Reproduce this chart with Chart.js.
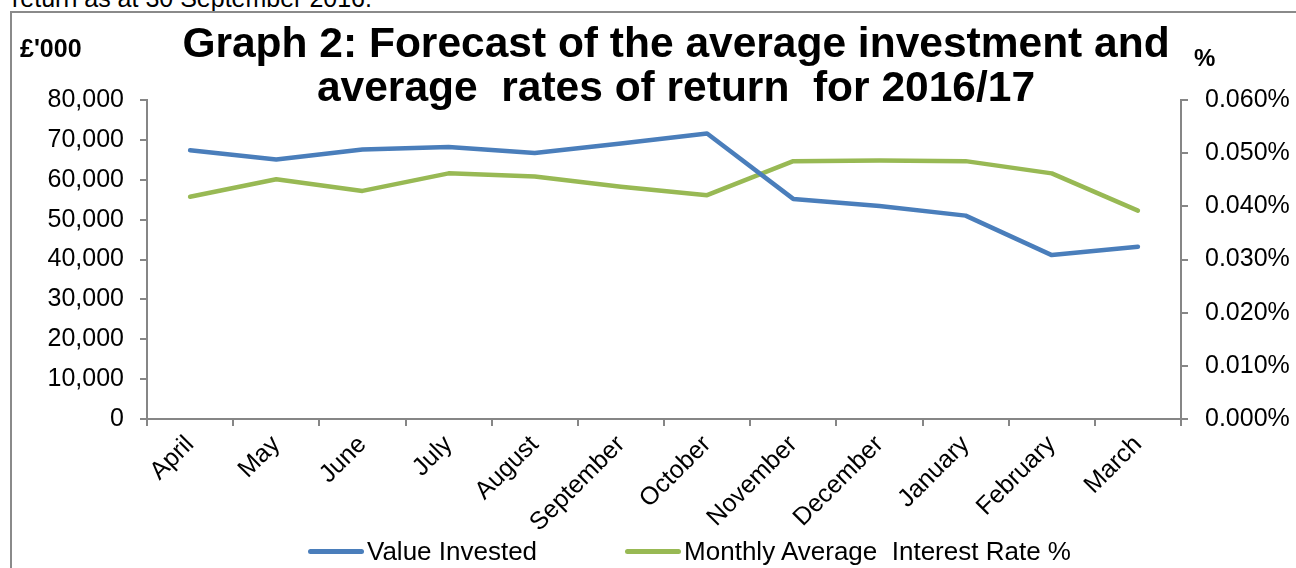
<!DOCTYPE html>
<html>
<head>
<meta charset="utf-8">
<script src="https://cdn.jsdelivr.net/npm/chart.js@4.4.0/dist/chart.umd.min.js"></script>
<style>
  body {
    margin: 0;
    width: 1296px;
    height: 568px;
    overflow: hidden;
    position: relative;
    background: #fff;
    font-family: 'Liberation Sans', Arial, sans-serif;
    color: #000;
  }
  .chartBox {
    position: absolute;
    left: 10px;
    top: 11px;
    width: 1400px;
    height: 700px;
    border: 2px solid #8a8a8a;
    box-sizing: border-box;
  }
  .topText {
    position: absolute;
    left: 12px;
    top: -14px;
    font-size: 25px;
    line-height: 24px;
    white-space: pre;
  }
  .graphTitle {
    position: absolute;
    left: 126px;
    width: 1100px;
    top: 21px;
    text-align: center;
    font-size: 42.5px;
    font-weight: bold;
    line-height: 44px;
    white-space: pre;
  }
  .unitLeft {
    position: absolute;
    left: 20px;
    top: 36px;
    font-size: 25px;
    line-height: 25px;
    font-weight: bold;
  }
  .unitRight {
    position: absolute;
    left: 1194px;
    top: 46px;
    font-size: 24px;
    line-height: 24px;
    font-weight: bold;
  }
  #chartWrap {
    position: absolute;
    left: 0;
    top: 0;
    width: 1296px;
    height: 568px;
  }
  #legend {
    position: absolute;
    left: 308px;
    top: 538px;
    display: flex;
    align-items: center;
    gap: 88px;
    font-size: 26px;
    line-height: 26px;
    white-space: pre;
  }
  .legendItem {
    display: flex;
    align-items: center;
  }
  .legendLine {
    width: 56px;
    height: 5px;
    border-radius: 3px;
    margin-right: 3px;
  }
</style>
</head>
<body>
<div class="topText">return as at 30 September 2016.</div>
<div class="chartBox"></div>
<div id="chartWrap"><canvas id="rateChart" width="1296" height="568"></canvas></div>
<div class="graphTitle">Graph 2: Forecast of the average investment and
average  rates of return  for 2016/17</div>
<div class="unitLeft">£'000</div>
<div class="unitRight">%</div>
<div id="legend"></div>

<script>
const months = ['April', 'May', 'June', 'July', 'August', 'September', 'October', 'November', 'December', 'January', 'February', 'March'];
const valueInvested = [67400, 65100, 67600, 68200, 66700, 69100, 71600, 55200, 53400, 51000, 41100, 43200];
const avgInterestRate = [0.0418, 0.0451, 0.0429, 0.0462, 0.0456, 0.0437, 0.0421, 0.0485, 0.0486, 0.0485, 0.0462, 0.0392];
const seriesNames = ['Value Invested', 'Monthly Average  Interest Rate %'];
const seriesColors = ['#4a7ebb', '#98b954'];

const axisGrey = '#868686';
let myRateChart = null;

function axisGrid() {
  return {
    drawOnChartArea: false,
    drawTicks: true,
    tickLength: 7,
    color: axisGrey,
    lineWidth: 2,
  };
}

function buildChart() {
  const ctx = document.getElementById('rateChart').getContext('2d');

  Chart.defaults.font.family = "'Liberation Sans', Arial, sans-serif";
  Chart.defaults.color = '#000';

  const data = {
    labels: months,
    datasets: [{
      label: seriesNames[0],
      data: valueInvested,
      borderColor: seriesColors[0],
      backgroundColor: seriesColors[0],
      yAxisID: 'y',
    }, {
      label: seriesNames[1],
      data: avgInterestRate,
      borderColor: seriesColors[1],
      backgroundColor: seriesColors[1],
      yAxisID: 'y1',
    }],
  };

  const options = {
    responsive: false,
    animation: false,
    layout: {
      padding: { top: 100, left: 0, right: 0, bottom: 29 },
    },
    elements: {
      line: { borderWidth: 4.5, tension: 0, borderCapStyle: 'round', borderJoinStyle: 'round' },
      point: { radius: 0, hoverRadius: 0 },
    },
    plugins: {
      legend: { display: false },
      title: { display: false },
      tooltip: { enabled: false },
    },
    scales: {
      x: {
        offset: true,
        grid: Object.assign(axisGrid(), { offset: true }),
        border: { color: axisGrey, width: 2 },
        ticks: {
          font: { size: 25 },
          maxRotation: 45,
          minRotation: 45,
          autoSkip: false,
          padding: 4,
        },
        afterFit: (scale) => { scale.height = 120; },
      },
      y: {
        position: 'left',
        min: 0,
        max: 80000,
        grid: axisGrid(),
        border: { color: axisGrey, width: 2 },
        ticks: {
          stepSize: 10000,
          font: { size: 25 },
          padding: 16,
          callback: (v) => v.toLocaleString('en-GB'),
        },
        afterFit: (scale) => { scale.width = 147; },
      },
      y1: {
        position: 'right',
        min: 0,
        max: 0.06,
        grid: axisGrid(),
        border: { color: axisGrey, width: 2 },
        ticks: {
          stepSize: 0.01,
          font: { size: 25 },
          padding: 17,
          callback: (v) => v.toFixed(3) + '%',
        },
        afterFit: (scale) => { scale.width = 115; },
      },
    },
  };

  myRateChart = new Chart(ctx, {
    type: 'line',
    data: data,
    options: options,
  });
}

function buildLegend() {
  const legend = document.getElementById('legend');
  myRateChart.data.datasets.forEach((ds) => {
    const item = document.createElement('div');
    item.className = 'legendItem';
    item.innerHTML = `<span class="legendLine" style="background:${ds.borderColor}"></span><span>${ds.label}</span>`;
    legend.appendChild(item);
  });
}

document.addEventListener('DOMContentLoaded', () => {
  buildChart();
  buildLegend();
});
</script>
</body>
</html>
